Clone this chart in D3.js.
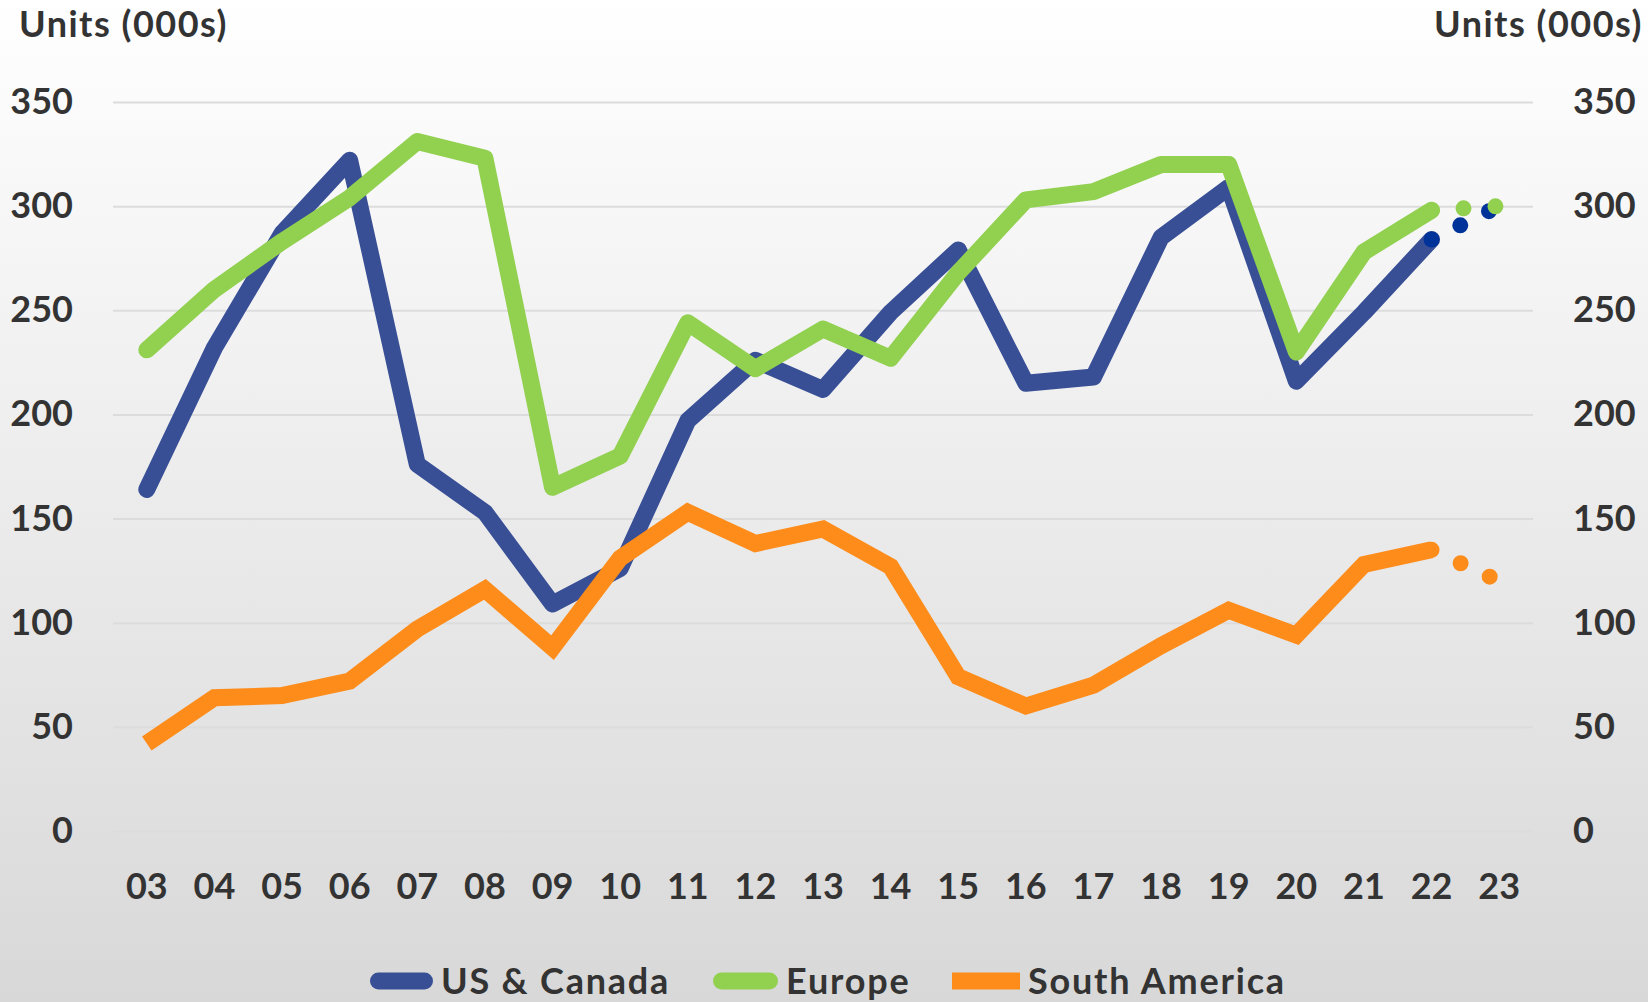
<!DOCTYPE html>
<html>
<head>
<meta charset="utf-8">
<script src="https://cdn.jsdelivr.net/npm/d3@7"></script>
<style>
  body { margin: 0; padding: 0; }
  svg text { font-family: Lato, "Open Sans", sans-serif; font-weight: 700; fill: #333; }
</style>
</head>
<body>
<div id="chart"></div>
<script>
// years (categories)
var years = ["03","04","05","06","07","08","09","10","11","12","13","14","15","16","17","18","19","20","21","22","23"];

// series values, units (000s); last point (23) is a forecast
var usCanada = [164,232,287,322,176,153,109,126,197,226,212,249,279,215,218,285,309,216,249,284,300];
var europe = [231,260,283,304,331,323,165,180,244,222,241,227,268,303,307,320,320,230,278,298,300];
var southAmerica = [42,64,65,72,97,116,88,131,153,138,145,127,74,60,70,89,106,94,128,135,120];

var yTicks = [0,50,100,150,200,250,300,350];
var seriesNames = ["US & Canada","Europe","South America"];

var width = 1648, height = 1002;

var svg = d3.select("#chart")
  .append("svg")
  .attr("width", width)
  .attr("height", height);

var defs = svg.append("defs");
var grad = defs.append("linearGradient")
  .attr("id", "bg")
  .attr("x1", 0).attr("y1", 0).attr("x2", 0).attr("y2", 1);
grad.append("stop").attr("offset", "0%").attr("stop-color", "#ffffff");
grad.append("stop").attr("offset", "100%").attr("stop-color", "#d8d8d8");

svg.append("rect")
  .attr("width", width)
  .attr("height", height)
  .attr("fill", "url(#bg)");

var plotLeft = 113, plotRight = 1533, plotTop = 102, plotBottom = 831;

var x = d3.scaleBand().domain(years).range([plotLeft, plotRight]);
var y = d3.scaleLinear().domain([0, 350]).range([plotBottom, plotTop]);

function cx(d) { return x(d) + x.bandwidth() / 2; }

// gridlines
svg.append("g")
  .attr("class", "grid")
  .attr("transform", "translate(" + plotLeft + ",0)")
  .call(d3.axisLeft(y).tickValues(yTicks).tickSize(-(plotRight - plotLeft)).tickFormat(""))
  .call(function(g) {
    g.select(".domain").remove();
    g.selectAll("line").attr("stroke", "#dcdcdc").attr("stroke-width", 2);
  });

// left axis labels
svg.append("g")
  .attr("transform", "translate(" + plotLeft + ",0)")
  .call(d3.axisLeft(y).tickValues(yTicks).tickSize(0).tickPadding(40))
  .call(function(g) {
    g.select(".domain").remove();
    g.selectAll("text").attr("font-size", "36px").attr("font-family", null).attr("fill", null);
  });

// right axis labels
svg.append("g")
  .attr("transform", "translate(" + plotRight + ",0)")
  .call(d3.axisRight(y).tickValues(yTicks).tickSize(0).tickPadding(40))
  .call(function(g) {
    g.select(".domain").remove();
    g.selectAll("text").attr("font-size", "36px").attr("font-family", null).attr("fill", null);
  });

// bottom axis
svg.append("g")
  .attr("transform", "translate(0," + plotBottom + ")")
  .call(d3.axisBottom(x).tickSize(0).tickPadding(42))
  .call(function(g) {
    g.select(".domain").remove();
    g.selectAll("text").attr("font-size", "36px").attr("font-family", null).attr("fill", null);
  });

// axis titles
svg.append("text")
  .attr("x", 19).attr("y", 37)
  .attr("font-size", "36px")
  .attr("letter-spacing", "1.5px")
  .text("Units (000s)");

svg.append("text")
  .attr("x", 1643).attr("y", 37)
  .attr("text-anchor", "end")
  .attr("font-size", "36px")
  .attr("letter-spacing", "1.5px")
  .text("Units (000s)");

var series = [
  { name: seriesNames[0], values: usCanada, color: "#384f96", dot: "#00339a", cap: "round", join: "round" },
  { name: seriesNames[1], values: europe, color: "#92d050", dot: "#92d050", cap: "round", join: "round" },
  { name: seriesNames[2], values: southAmerica, color: "#fd8c1b", dot: "#fd8c1b", cap: "butt", join: "miter" }
];

var line = d3.line()
  .x(function(d) { return cx(d.year); })
  .y(function(d) { return y(d.value); });

series.forEach(function(s) {
  var pts = years.map(function(yr, i) { return { year: yr, value: s.values[i] }; });
  var solid = pts.slice(0, pts.length - 1);
  var forecast = pts.slice(pts.length - 2);

  svg.append("path")
    .datum(solid)
    .attr("fill", "none")
    .attr("stroke", s.color)
    .attr("stroke-width", 17)
    .attr("stroke-linecap", s.cap)
    .attr("stroke-linejoin", s.join)
    .attr("d", line);

  svg.append("path")
    .datum(forecast)
    .attr("fill", "none")
    .attr("stroke", s.dot)
    .attr("stroke-width", 16)
    .attr("stroke-linecap", "round")
    .attr("stroke-dasharray", "0 32")
    .attr("d", line);
});

// legend
var legendItems = [
  { x1: 370, x2: 433, tx: 441 },
  { x1: 713, x2: 778, tx: 786 },
  { x1: 952, x2: 1020, tx: 1028 }
];
var legendY = 981;

series.forEach(function(s, i) {
  var it = legendItems[i];
  var inset = s.cap == "round" ? 8.5 : 0;
  svg.append("line")
    .attr("x1", it.x1 + inset).attr("x2", it.x2 - inset)
    .attr("y1", legendY).attr("y2", legendY)
    .attr("stroke", s.color)
    .attr("stroke-width", 17)
    .attr("stroke-linecap", s.cap);
  svg.append("text")
    .attr("x", it.tx).attr("y", 994)
    .attr("font-size", "36px")
    .attr("letter-spacing", "1.8px")
    .text(s.name);
});
</script>
</body>
</html>
